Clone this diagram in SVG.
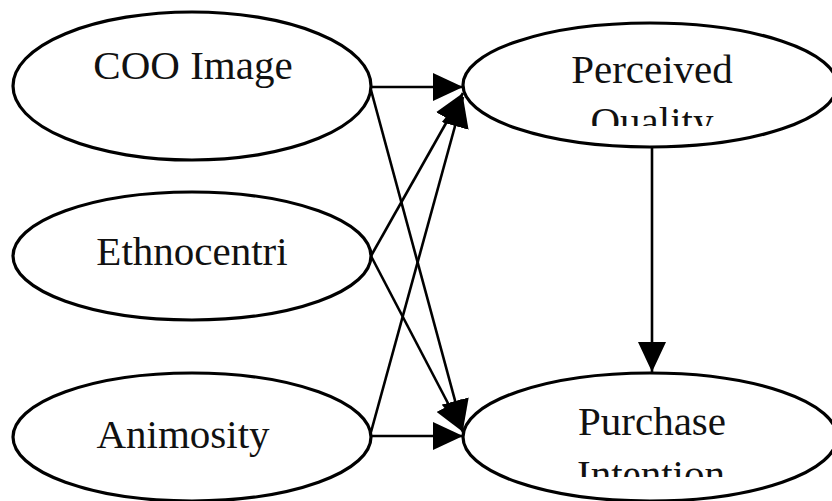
<svg xmlns="http://www.w3.org/2000/svg" width="832" height="501" viewBox="0 0 832 501">
  <style>
    .node ellipse { fill: #ffffff; stroke: #000000; stroke-width: 3.2; }
    .label { font-family: 'Liberation Serif', 'Times New Roman', 'DejaVu Serif', serif; font-size: 41px; fill: #111111; text-anchor: middle; }
    .edge { stroke: #000000; stroke-width: 2.6; fill: none; marker-end: url(#arrow); }
  </style>
  <defs>
    <marker id="arrow" markerUnits="userSpaceOnUse" markerWidth="30" markerHeight="28" refX="30" refY="14" orient="auto" viewBox="0 0 30 28">
      <path d="M0,0 L30,14 L0,28 z" fill="#000000"/>
    </marker>
    <!-- second lines of the right-hand labels only show their upper part -->
    <clipPath id="clipQuality"><rect x="540" y="95" width="230" height="31"/></clipPath>
    <clipPath id="clipIntention"><rect x="540" y="445" width="230" height="32"/></clipPath>
  </defs>

  <rect x="0" y="0" width="832" height="501" fill="#ffffff"/>

  <g id="coo-image" class="node">
    <ellipse cx="192" cy="86" rx="179" ry="74"/>
    <text class="label" font-family="Liberation Serif, serif" x="193" y="79">COO Image</text>
  </g>

  <g id="ethnocentrism" class="node">
    <ellipse cx="192" cy="256" rx="179" ry="64"/>
    <text class="label" font-family="Liberation Serif, serif" x="192" y="265">Ethnocentri</text>
  </g>

  <g id="animosity" class="node">
    <ellipse cx="192" cy="437" rx="179" ry="64"/>
    <text class="label" font-family="Liberation Serif, serif" x="183" y="448">Animosity</text>
  </g>

  <g id="perceived-quality" class="node">
    <ellipse cx="650" cy="85" rx="187" ry="62"/>
    <text class="label" font-family="Liberation Serif, serif" x="652" y="83">Perceived</text>
    <text class="label" font-family="Liberation Serif, serif" x="652" y="135" clip-path="url(#clipQuality)">Quality</text>
  </g>

  <g id="purchase-intention" class="node">
    <ellipse cx="650" cy="437" rx="187" ry="64"/>
    <text class="label" font-family="Liberation Serif, serif" x="652" y="435">Purchase</text>
    <text class="label" font-family="Liberation Serif, serif" x="651" y="488" clip-path="url(#clipIntention)">Intention</text>
  </g>

  <g id="connectors">
    <line class="edge" x1="371" y1="87" x2="463" y2="87"/>
    <line class="edge" x1="371" y1="90" x2="463" y2="430"/>
    <line class="edge" x1="371" y1="256" x2="463" y2="93"/>
    <line class="edge" x1="371" y1="256" x2="463" y2="432"/>
    <line class="edge" x1="371" y1="432" x2="463" y2="97"/>
    <line class="edge" x1="371" y1="436" x2="463" y2="436"/>
    <line class="edge" x1="652" y1="147" x2="652" y2="372"/>
  </g>
</svg>
